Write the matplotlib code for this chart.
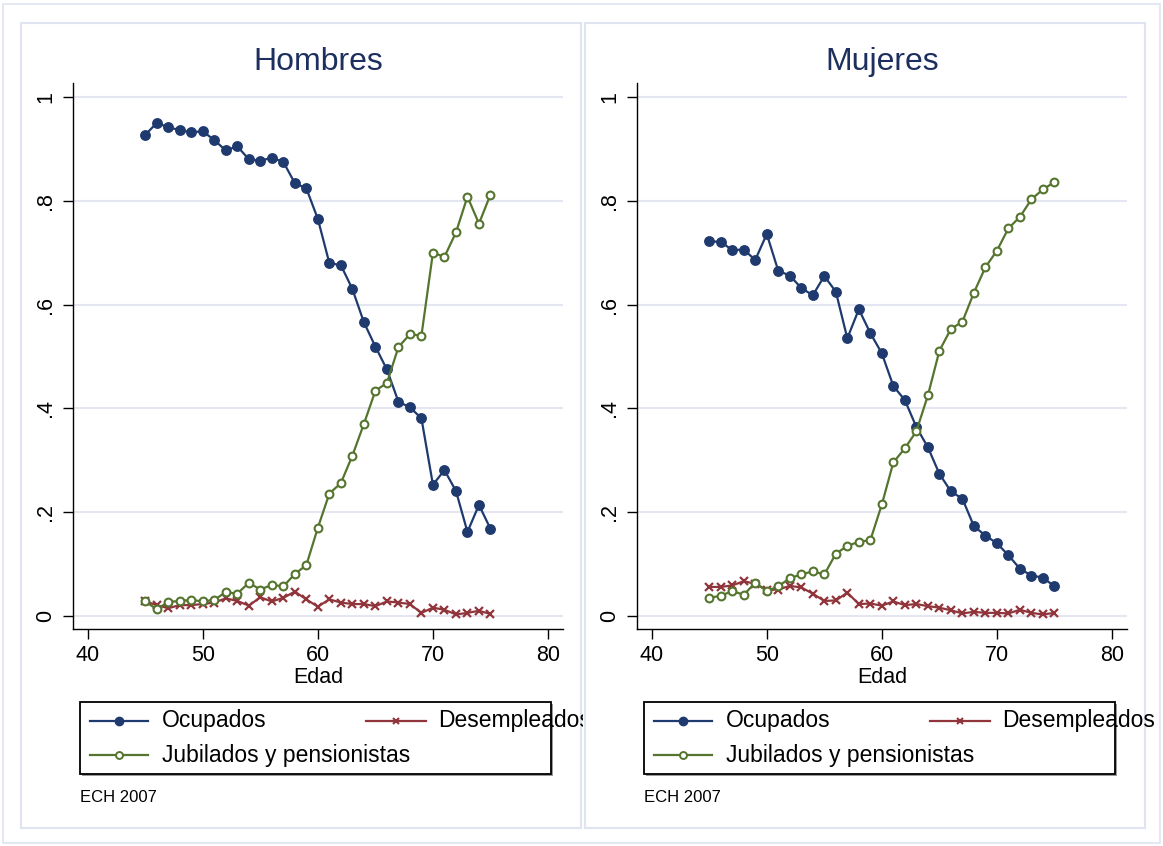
import matplotlib
matplotlib.use('Agg')
import matplotlib.pyplot as plt
from matplotlib.lines import Line2D
from matplotlib.patches import Rectangle
from matplotlib.transforms import Bbox

plt.rcParams['font.family'] = ['Liberation Sans', 'DejaVu Sans']

# data
edad = [45, 46, 47, 48, 49, 50, 51, 52, 53, 54, 55, 56, 57, 58, 59, 60,
        61, 62, 63, 64, 65, 66, 67, 68, 69, 70, 71, 72, 73, 74, 75]

ocup_h = [0.927, 0.950, 0.942, 0.936, 0.932, 0.934, 0.917, 0.897, 0.905, 0.880,
          0.877, 0.883, 0.875, 0.834, 0.824, 0.765, 0.680, 0.676, 0.630, 0.566,
          0.519, 0.475, 0.413, 0.402, 0.381, 0.253, 0.281, 0.241, 0.162, 0.214, 0.168]
desemp_h = [0.028, 0.021, 0.015, 0.021, 0.021, 0.023, 0.026, 0.034, 0.029, 0.020,
            0.036, 0.028, 0.035, 0.047, 0.032, 0.018, 0.032, 0.026, 0.023, 0.023,
            0.019, 0.028, 0.026, 0.023, 0.006, 0.016, 0.012, 0.003, 0.006, 0.010, 0.004]
jubil_h = [0.028, 0.013, 0.027, 0.029, 0.031, 0.028, 0.031, 0.046, 0.043, 0.064,
           0.051, 0.060, 0.057, 0.081, 0.098, 0.170, 0.236, 0.256, 0.309, 0.370,
           0.434, 0.449, 0.518, 0.543, 0.540, 0.700, 0.692, 0.739, 0.808, 0.756, 0.812]

ocup_m = [0.722, 0.721, 0.705, 0.706, 0.686, 0.736, 0.665, 0.656, 0.632, 0.618,
          0.655, 0.625, 0.535, 0.591, 0.545, 0.506, 0.443, 0.416, 0.364, 0.325,
          0.274, 0.240, 0.226, 0.173, 0.155, 0.140, 0.117, 0.091, 0.078, 0.074, 0.057]
desemp_m = [0.056, 0.056, 0.059, 0.067, 0.062, 0.050, 0.051, 0.058, 0.055, 0.043,
            0.029, 0.030, 0.045, 0.023, 0.024, 0.020, 0.028, 0.021, 0.023, 0.019,
            0.016, 0.011, 0.005, 0.008, 0.006, 0.006, 0.005, 0.012, 0.006, 0.003, 0.006]
jubil_m = [0.035, 0.039, 0.048, 0.041, 0.064, 0.048, 0.057, 0.073, 0.080, 0.086,
           0.080, 0.120, 0.135, 0.143, 0.146, 0.215, 0.296, 0.323, 0.356, 0.425,
           0.511, 0.553, 0.567, 0.623, 0.672, 0.704, 0.747, 0.769, 0.803, 0.822, 0.836]

xticks = [40, 50, 60, 70, 80]
yticks = [0, 0.2, 0.4, 0.6, 0.8, 1]
ylabels = ['0', '.2', '.4', '.6', '.8', '1']
series = ['Ocupados', 'Desempleados', 'Jubilados y pensionistas']

NAVY = '#1f3a6e'
MAROON = '#90353b'
GREEN = '#55752f'
TITLE = '#1c2f5e'
GRID = '#e4e7f2'
FRAME = '#e0e4f0'

W, H = 1163, 846
fig = plt.figure(figsize=(W / 100, H / 100), dpi=100)


def fx(x):
    return x / W


def fy(y):
    return 1 - y / H


def frame(x0, y0, x1, y1, **kw):
    r = Rectangle((fx(x0), fy(y1)), (x1 - x0) / W, (y1 - y0) / H,
                  transform=fig.transFigure, **kw)
    fig.add_artist(r)
    return r


# outer border
frame(3, 4, 1160, 843, fill=False, ec=FRAME, lw=1.2)

panels = [('Hombres', ocup_h, desemp_h, jubil_h, 0),
          ('Mujeres', ocup_m, desemp_m, jubil_m, 564)]

for title, oc, de, ju, dx in panels:
    frame(20.7 + dx, 22.7, 581 + dx, 828.3, fill=False, ec=FRAME, lw=1.5)

    ax = fig.add_axes([fx(73 + dx), fy(629.3), 490 / W, 546 / H])
    ax.plot(edad, oc, color=NAVY, lw=1.6, marker='o', ms=6.8, mec=NAVY, mfc=NAVY)
    ax.plot(edad, de, color=MAROON, lw=1.6, marker='x', ms=5.2, mew=1.6)
    ax.plot(edad, ju, color=GREEN, lw=1.6, marker='o', ms=5.6, mfc='white',
            mec=GREEN, mew=1.5)

    ax.set_xlim(38.723, 81.303)
    ax.set_ylim(-0.02563, 1.02639)
    ax.set_xticks(xticks)
    ax.set_yticks(yticks)
    ax.set_yticklabels(ylabels)
    ax.yaxis.grid(True, color=GRID, lw=1.5)
    ax.set_axisbelow(True)
    for s in ('top', 'right'):
        ax.spines[s].set_visible(False)
    for s in ('left', 'bottom'):
        ax.spines[s].set_linewidth(1.0)
    ax.tick_params(axis='both', direction='out', length=7, width=1.0,
                   labelsize=15.5, colors='black')
    ax.tick_params(axis='x', pad=4)
    ax.tick_params(axis='y', labelrotation=90, pad=5)
    for t in ax.get_yticklabels():
        t.set_va('center')

    ax.set_xlabel('Edad', fontsize=15.5)
    ax.xaxis.set_label_coords(0.5, -(677 - 629.3) / 546)
    ax.xaxis.label.set_va('center')
    ax.text(0.5, (629.3 - 62) / 546, title, transform=ax.transAxes,
            ha='center', va='center', fontsize=23, color=TITLE)

    # legend, laid out by hand like the original
    frame(82 + dx, 703.7, 553 + dx, 775.7, fc='#9a9a9a', ec='none', zorder=2)
    frame(80 + dx, 701.7, 551 + dx, 773.7, fc='white', ec='black', lw=1.3, zorder=2.5)
    handles = [(90, 148, 119, 721, NAVY, 'o', dict(ms=6, mfc=NAVY, mec=NAVY)),
               (366, 426, 396, 721, MAROON, 'x', dict(ms=4.5, mew=1.5)),
               (90, 148, 119, 755, GREEN, 'o', dict(ms=5, mfc='white', mec=GREEN, mew=1.4))]
    text_pos = [(162, 721), (438, 721), (162, 755)]
    for (x0, x1, xm, yr, c, m, kw), name, (tx, ty) in zip(handles, series, text_pos):
        fig.add_artist(Line2D([fx(x0 + dx), fx(x1 + dx)], [fy(yr), fy(yr)],
                              transform=fig.transFigure, color=c, lw=1.6, zorder=3))
        fig.add_artist(Line2D([fx(xm + dx)], [fy(yr)], transform=fig.transFigure,
                              color=c, marker=m, ls='none', zorder=3.1, **kw))
        t = fig.text(fx(tx + dx), fy(ty), name, ha='left', va='center',
                     fontsize=16.5, color='black', zorder=3.2)
        if dx == 0:
            t.set_clip_box(Bbox.from_extents(0, 0, 583, H))
            t.set_clip_on(True)

    fig.text(fx(80 + dx), fy(797), 'ECH 2007', ha='left', va='center',
             fontsize=12, color='black')

fig.savefig('out.png', dpi=100, facecolor='white')
